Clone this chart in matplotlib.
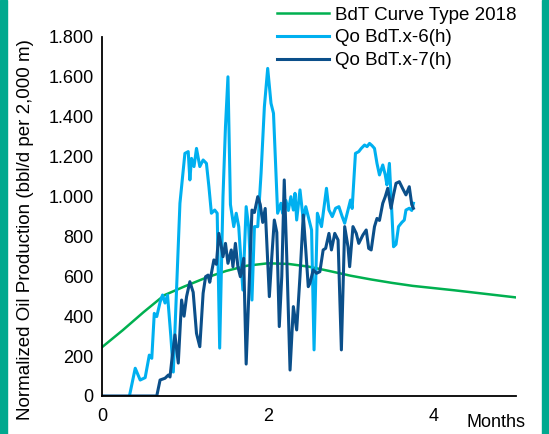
import matplotlib
matplotlib.use("Agg")
import matplotlib.pyplot as plt
from matplotlib.patches import Rectangle
from matplotlib.ticker import FuncFormatter

plt.rcParams['font.family'] = ['Liberation Sans', 'DejaVu Sans']

# type curve (months, bbl/d)
curve_t = [0, 0.25, 0.5, 0.75, 1.0, 1.25, 1.5, 1.75, 2.0, 2.25, 2.5, 2.75, 3.0,
           3.25, 3.5, 3.75, 4.0, 4.25, 4.5, 4.75, 5.0]
curve_q = [245, 330, 420, 505, 550, 592, 627, 653, 665, 662, 648, 626, 603,
           584, 567, 552, 541, 530, 518, 506, 494]

# well x-6
x6_t = [0.33, 0.40, 0.46, 0.52, 0.57, 0.60, 0.63, 0.66, 0.70, 0.73, 0.76, 0.79,
        0.83, 0.86, 0.94, 1.00, 1.04, 1.06, 1.08, 1.11, 1.14, 1.18, 1.22, 1.26,
        1.29, 1.32, 1.36, 1.39, 1.42, 1.46, 1.49, 1.52, 1.55, 1.59, 1.62, 1.65,
        1.70, 1.74, 1.77, 1.81, 1.84, 1.88, 1.92, 1.96, 2.00, 2.04, 2.07, 2.12,
        2.16, 2.18, 2.22, 2.25, 2.28, 2.31, 2.33, 2.35, 2.39, 2.43, 2.46, 2.49,
        2.53, 2.56, 2.60, 2.65, 2.71, 2.74, 2.78, 2.82, 2.86, 2.90, 2.93, 2.97,
        3.00, 3.02, 3.06, 3.10, 3.13, 3.17, 3.20, 3.23, 3.26, 3.29, 3.32, 3.35,
        3.39, 3.42, 3.44, 3.47, 3.49, 3.52, 3.55, 3.58, 3.62, 3.65, 3.67, 3.71,
        3.74, 3.76]
x6_q = [0, 139, 80, 92, 205, 189, 414, 398, 470, 506, 466, 506,
        300, 120, 966, 1216, 1225, 1083, 1191, 1150, 1241, 1150, 1183, 1166,
        1049, 916, 932, 916, 240, 999, 1350, 1600, 960, 849, 916, 849,
        531, 949, 849, 481, 849, 849, 1116, 1450, 1642, 1467, 1417, 916,
        966, 916, 980, 930, 999, 932, 1016, 882, 1033, 882, 949, 899,
        832, 231, 916, 849, 1041, 932, 899, 941, 949, 899, 866, 932,
        982, 940, 1216, 1225, 1241, 1258, 1250, 1266, 1255, 1241, 1166, 1108,
        1158, 1108, 1058, 1166, 999, 748, 760, 849, 870, 882, 932, 941,
        930, 966]

# well x-7
x7_t = [0.00, 0.66, 0.70, 0.76, 0.80, 0.82, 0.84, 0.88, 0.92, 0.96, 0.99, 1.02,
        1.06, 1.10, 1.14, 1.18, 1.22, 1.25, 1.28, 1.30, 1.32, 1.35, 1.38, 1.41,
        1.44, 1.46, 1.49, 1.52, 1.56, 1.58, 1.61, 1.64, 1.67, 1.71, 1.74, 1.78,
        1.81, 1.84, 1.88, 1.91, 1.94, 1.97, 2.02, 2.05, 2.08, 2.11, 2.14, 2.17,
        2.20, 2.23, 2.27, 2.31, 2.35, 2.39, 2.43, 2.46, 2.49, 2.51, 2.55, 2.59,
        2.63, 2.67, 2.70, 2.74, 2.77, 2.81, 2.85, 2.89, 2.93, 2.97, 2.99, 3.03,
        3.07, 3.10, 3.15, 3.19, 3.22, 3.25, 3.29, 3.32, 3.35, 3.39, 3.42, 3.45,
        3.49, 3.52, 3.55, 3.59, 3.63, 3.67, 3.71, 3.74, 3.76]
x7_q = [0, 0, 80, 89, 105, 95, 172, 306, 165, 481, 400, 498,
        573, 520, 314, 247, 515, 598, 606, 570, 615, 682, 660, 815,
        748, 698, 765, 665, 732, 648, 765, 648, 598, 690, 160, 600,
        932, 920, 999, 960, 870, 940, 498, 700, 882, 820, 348, 600,
        1083, 700, 130, 448, 331, 600, 907, 732, 548, 565, 632, 615,
        623, 732, 740, 815, 732, 815, 782, 231, 849, 748, 648, 849,
        815, 765, 807, 832, 740, 732, 849, 890, 880, 966, 999, 1041,
        941, 1008, 1066, 1074, 1040, 1008, 1049, 960, 941]

fig = plt.figure(figsize=(5.49, 4.34), dpi=100)
ax = fig.add_axes([0.186, 0.0876, 0.754, 0.8274])

ax.plot(curve_t, curve_q, color='#00B050', lw=1.8, label='BdT Curve Type 2018')
ax.plot(x6_t, x6_q, color='#00B0F0', lw=2.2, label='Qo BdT.x-6(h)')
ax.plot(x7_t, x7_q, color='#0B4F8A', lw=2.2, label='Qo BdT.x-7(h)')

ax.set_xlim(0, 5)
ax.set_ylim(0, 1800)
ax.set_xticks([0, 2, 4])
ax.set_yticks(range(0, 1801, 200))
ax.yaxis.set_major_formatter(FuncFormatter(lambda v, p: f"{int(v):,}".replace(',', '.')))
ax.tick_params(length=0, labelsize=13, pad=6)
ax.tick_params(axis='x', pad=9)
for s in ['top', 'right']:
    ax.spines[s].set_visible(False)
for s in ['left', 'bottom']:
    ax.spines[s].set_linewidth(1.3)

# axis titles
fig.text(0.046, 0.472, 'Normalized Oil Production (bbl/d per 2,000 m)', fontsize=13.5,
         rotation=90, ha='center', va='center')
fig.text(0.849, 0.027, 'Months', fontsize=13, ha='left', va='center')

ax.legend(loc='upper left', bbox_to_anchor=(0.505, 0.985), bbox_transform=fig.transFigure,
          frameon=False, fontsize=13.5, handlelength=2.77, handletextpad=0.32,
          labelspacing=0.3, borderpad=0, borderaxespad=0)

# side bars
fig.patches.append(Rectangle((0, 0), 7 / 549, 1, transform=fig.transFigure,
                             color='#00A98F', zorder=0))
fig.patches.append(Rectangle((542 / 549, 0), 7 / 549, 1, transform=fig.transFigure,
                             color='#00A98F', zorder=0))

fig.savefig('out.png', dpi=100)
